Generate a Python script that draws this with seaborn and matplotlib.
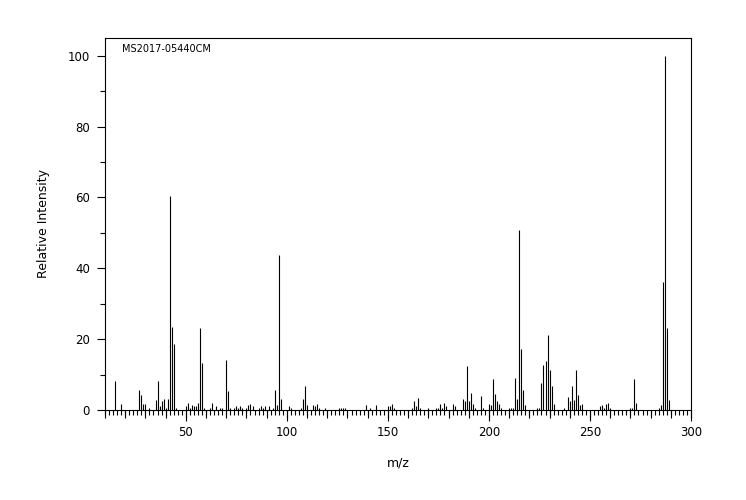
import matplotlib
matplotlib.use("Agg")
import matplotlib.pyplot as plt
import numpy as np
import seaborn as sns

# m/z values and relative intensities
mz = [15, 18, 27, 28, 29, 30, 32, 35, 36, 37, 38, 39, 40, 41, 42, 43, 44, 45,
      50, 51, 52, 53, 54, 55, 56, 57, 58, 59, 62, 63, 65, 67, 68, 70, 71, 72,
      74, 75, 76, 77, 78, 80, 81, 82, 83, 86, 87, 88, 89, 91, 93, 94, 95, 96,
      97, 101, 102, 107, 108, 109, 110, 113, 114, 115, 116, 119, 126, 127, 128,
      129, 139, 141, 144, 150, 151, 152, 153, 162, 163, 164, 165, 166, 170,
      174, 175, 176, 177, 178, 179, 182, 183, 187, 188, 189, 190, 191, 192,
      193, 196, 197, 200, 201, 202, 203, 204, 205, 206, 210, 211, 212, 213,
      214, 215, 216, 217, 218, 224, 225, 226, 227, 228, 229, 230, 231, 232,
      237, 239, 240, 241, 242, 243, 244, 245, 246, 255, 256, 257, 258, 259,
      260, 270, 271, 272, 273, 284, 285, 286, 287, 288, 289]
intensity = [8.3, 1.8, 5.7, 4.3, 1.8, 1.8, 0.7, 2.9, 8.3, 1.0, 2.6, 3.2, 0.7,
             3.0, 60.4, 23.5, 18.7, 0.7,
             1.0, 2.0, 0.7, 1.5, 1.2, 1.2, 2.0, 23.2, 13.4, 0.7, 0.7, 2.0, 1.0,
             0.7, 0.7, 14.2, 5.5, 0.5,
             0.7, 1.0, 0.7, 1.2, 0.5, 0.7, 1.5, 1.8, 1.2, 0.5, 1.0, 0.7, 1.0,
             1.2, 0.5, 5.7, 1.5, 43.8,
             3.2, 1.2, 0.5, 0.7, 3.0, 6.9, 1.5, 1.5, 1.0, 1.8, 0.5, 0.5, 0.7,
             0.5, 0.7,
             0.5, 1.5, 0.5, 1.5, 1.0, 1.2, 1.8, 0.7, 0.5, 2.6, 1.0, 3.4, 0.7,
             0.5,
             0.5, 0.5, 1.8, 0.7, 2.0, 1.0, 1.8, 1.2, 3.2, 2.4, 12.3, 2.6, 4.8,
             1.8,
             0.5, 4.0, 0.7, 1.8, 1.5, 8.8, 4.6, 2.4, 1.8, 0.7, 0.5, 0.7, 0.7,
             9.1,
             3.2, 50.7, 17.3, 5.7, 1.5, 0.7, 0.7, 7.7, 12.8, 13.9, 21.3, 11.3,
             6.8, 1.8,
             0.7, 3.7, 2.4, 6.8, 2.9, 11.3, 4.3, 1.5, 1.8, 1.2, 1.5, 0.7, 1.8,
             2.0,
             0.7, 0.7, 0.5, 8.8, 2.0, 0.7, 1.5, 36.2, 100.0, 23.2, 2.9]
sample_id = "MS2017-05440CM"

sns.set_style("ticks", {"axes.edgecolor": "black", "xtick.color": "black",
                        "ytick.color": "black", "text.color": "black",
                        "axes.labelcolor": "black"})
plt.rcParams['font.family'] = ['DejaVu Sans']

fig = plt.figure(figsize=(7.46, 5.0), dpi=100)
ax = fig.add_axes([105 / 746, 1 - 410 / 500, 586 / 746, 372 / 500])

ax.vlines(mz, 0, intensity, color="black", linewidth=0.8)

ax.set_xlim(10, 300)
ax.set_ylim(0, 105)
ax.set_xticks(np.arange(50, 301, 50))
ax.set_xticks(np.arange(10, 301, 2), minor=True)
ax.set_yticks(np.arange(0, 101, 20))
ax.set_yticks(np.arange(0, 101, 10), minor=True)
ax.tick_params(axis="x", which="major", length=7.7, width=0.8, labelsize=8.5)
ax.tick_params(axis="x", which="minor", length=3.4, width=0.8)
ax.tick_params(axis="y", which="major", length=5.8, width=0.8, labelsize=8.5,
               pad=5)
ax.tick_params(axis="y", which="minor", length=3.4, width=0.8)

# medium ticks every 10 units
sec = ax.secondary_xaxis("bottom")
sec.set_xticks(np.arange(10, 301, 10))
sec.tick_params(length=5.4, width=0.8, labelbottom=False)
sec.spines["bottom"].set_visible(False)

for s in ax.spines.values():
    s.set_linewidth(0.8)

ax.set_xlabel("m/z", fontsize=9, labelpad=13)
ax.set_ylabel("Relative Intensity", fontsize=9, labelpad=13)
ax.text(0.029, 0.984, sample_id, transform=ax.transAxes, fontsize=7,
        ha="left", va="top")

fig.savefig("out.png", dpi=100)
